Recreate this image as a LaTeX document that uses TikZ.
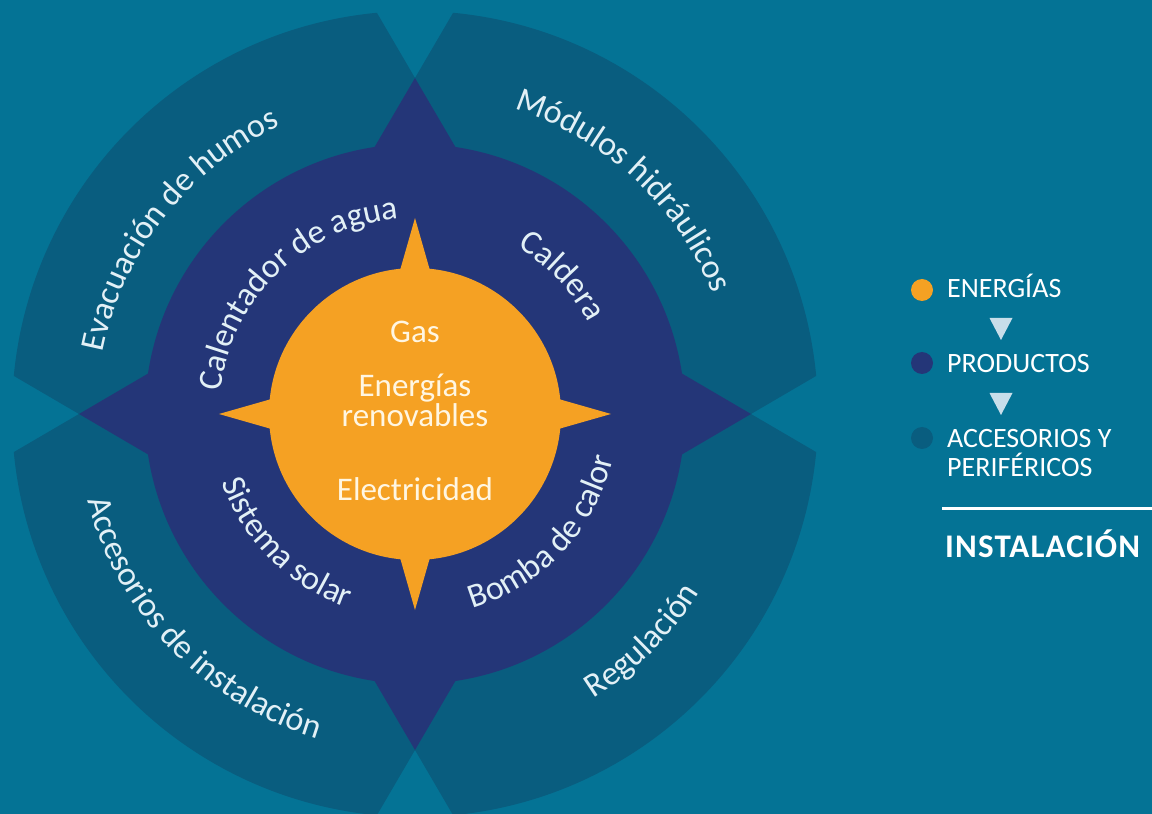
\documentclass[tikz,border=0pt]{standalone}
\usepackage{fontspec}
\setmainfont{Carlito}
\usetikzlibrary{decorations.text}
\definecolor{bgteal}{RGB}{4,115,149}
\definecolor{outerteal}{RGB}{9,93,127}
\definecolor{navyblue}{RGB}{36,54,120}
\definecolor{sunorange}{RGB}{245,161,35}
\definecolor{ringtext}{RGB}{226,240,246}
\definecolor{centertext}{RGB}{255,246,226}
\definecolor{legtri}{RGB}{200,222,234}
\newcommand\ringfont{\fontsize{34}{40}\selectfont}
\begin{document}
\begin{tikzpicture}[x=1pt,y=1pt,
  region/.style={fill=outerteal},
  ringlabel/.style={decorate,decoration={text along path,text align=center,text color=ringtext,text={|\ringfont|#1}}},
  centertxt/.style={text=centertext,font=\fontsize{33}{36}\selectfont,inner sep=0pt,anchor=base},
  legtxt/.style={text=white,font=\fontsize{28}{32}\selectfont,inner sep=0pt,anchor=base west},
  legdot/.style={circle,minimum size=22pt,inner sep=0pt},
  legarrow/.style={fill=legtri}
]
\fill[bgteal] (-415,-400) rectangle (737,414);
\useasboundingbox (-415,-400) rectangle (737,414);

% outer regions (accessories)
\fill[region] (-38.1,401.2) -- (0,336) -- (0,0) -- (-336,0) -- (-401.2,38.1) arc[start angle=174.58,end angle=95.42,radius=403] -- cycle;
\fill[region] (38.1,401.2) -- (0,336) -- (0,0) -- (336,0) -- (401.2,38.1) arc[start angle=5.42,end angle=84.58,radius=403] -- cycle;
\fill[region] (-38.1,-401.2) -- (0,-336) -- (0,0) -- (-336,0) -- (-401.2,-38.1) arc[start angle=185.42,end angle=264.58,radius=403] -- cycle;
\fill[region] (38.1,-401.2) -- (0,-336) -- (0,0) -- (336,0) -- (401.2,-38.1) arc[start angle=354.58,end angle=275.42,radius=403] -- cycle;

% products ring
\fill[navyblue] (0,0) circle[radius=270];
\fill[navyblue] (0,336) -- (40.4,267) -- (-40.4,267) -- cycle;
\fill[navyblue] (0,-336) -- (40.4,-267) -- (-40.4,-267) -- cycle;
\fill[navyblue] (336,0) -- (267,40.4) -- (267,-40.4) -- cycle;
\fill[navyblue] (-336,0) -- (-267,40.4) -- (-267,-40.4) -- cycle;

% energies star
\fill[sunorange] (0,0) circle[radius=146];
\fill[sunorange] (0,196) -- (16,140) -- (-16,140) -- cycle;
\fill[sunorange] (0,-196) -- (16,-140) -- (-16,-140) -- cycle;
\fill[sunorange] (196,0) -- (140,16) -- (140,-16) -- cycle;
\fill[sunorange] (-196,0) -- (-140,16) -- (-140,-16) -- cycle;

% center texts
\node[centertxt] (gas) at (0,71) {Gas};
\node[centertxt] (ener) at (0,17) {Energías};
\node[centertxt] (renov) at (0,-13) {renovables};
\node[centertxt] (elec) at (0,-86) {Electricidad};

% product labels
\path[ringlabel={Calentador de agua}] (194:196) arc[start angle=194,end angle=74,radius=196];
\path[ringlabel={Caldera}] (103:196) arc[start angle=103,end angle=-17,radius=196];
\path[ringlabel={Sistema solar}] (165:205) arc[start angle=165,end angle=285,radius=205];
\path[ringlabel={Bomba de calor}] (257:203) arc[start angle=257,end angle=377,radius=203];

% accessory labels
\path[ringlabel={Evacuación de humos}] (212:318) arc[start angle=212,end angle=72,radius=318];
\path[ringlabel={Módulos hidráulicos}] (117:321) arc[start angle=117,end angle=-23,radius=321];
\path[ringlabel={Accesorios de instalación}] (154:339) arc[start angle=154,end angle=294,radius=339];
\path[ringlabel={Regulación}] (245:336) arc[start angle=245,end angle=385,radius=336];

% legend
\node[legdot,fill=sunorange] (d1) at (507,124) {};
\node[legdot,fill=navyblue] (d2) at (507,51) {};
\node[legdot,fill=outerteal] (d3) at (507,-24) {};
\node[legtxt] (l1) at (532,116) {ENERGÍAS};
\node[legtxt] (l2) at (532,41) {PRODUCTOS};
\node[legtxt] (l3) at (532,-34) {ACCESORIOS Y};
\node[legtxt] (l4) at (532,-63) {PERIFÉRICOS};
\fill[legarrow] (574.5,96) -- (597.5,96) -- (586,74) -- cycle;
\fill[legarrow] (574.5,21) -- (597.5,21) -- (586,-1) -- cycle;
\coordinate (ls) at (527,-94);
\coordinate (le) at (737,-94);
\draw[white,line width=3pt] (ls) -- (le);
\node[legtxt,font=\fontsize{33}{36}\selectfont\bfseries\addfontfeature{LetterSpace=3.5}] (inst) at (530,-143) {INSTALACIÓN};
\end{tikzpicture}
\end{document}
